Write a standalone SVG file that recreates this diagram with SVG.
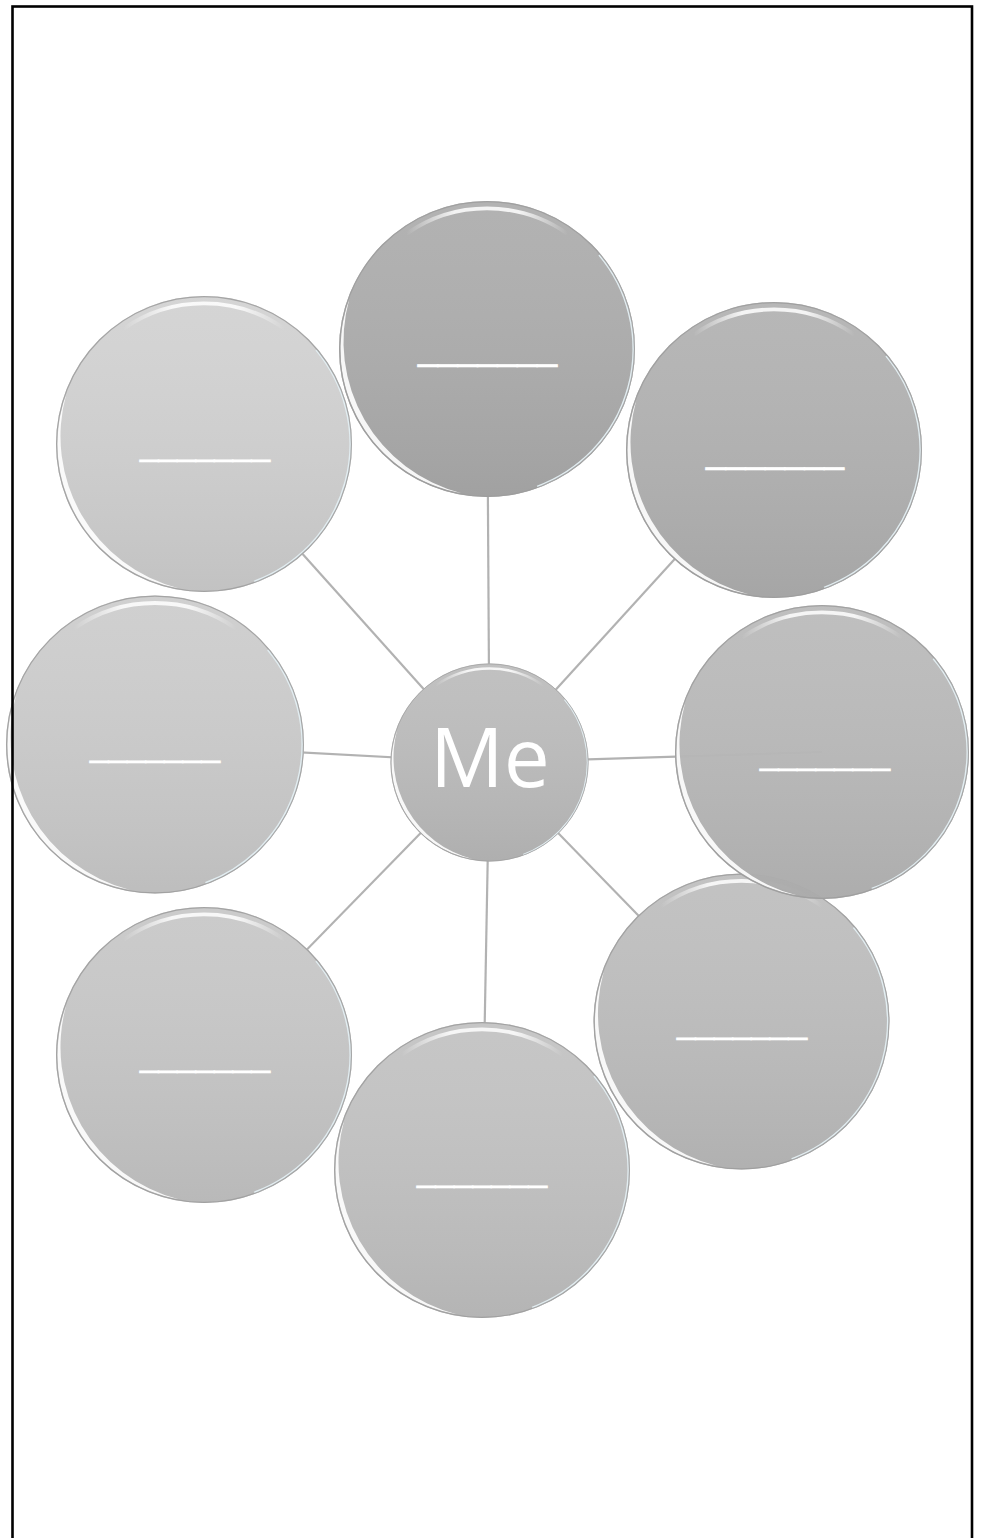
<svg xmlns="http://www.w3.org/2000/svg" width="982" height="1538" viewBox="0 0 982 1538">
  <style>
    .conn { stroke: #b2b2b2; stroke-width: 2.2; fill: none; }
    .blank { font-family: "Liberation Sans", Arial, sans-serif; fill: #ffffff; stroke: #ffffff; stroke-width: 0.7; }
    .me { font-family: "Open Sans", "Liberation Sans", sans-serif; font-size: 82px; fill: #ffffff; }
  </style>
  <defs>
    <linearGradient id="shade" x1="0" y1="0" x2="0" y2="1">
      <stop offset="0" stop-color="#ffffff" stop-opacity="0.04"/>
      <stop offset="1" stop-color="#000000" stop-opacity="0.08"/>
    </linearGradient>
    <linearGradient id="topfade" x1="0" y1="0" x2="1" y2="0">
      <stop offset="0" stop-color="#ffffff" stop-opacity="0"/>
      <stop offset="0.3" stop-color="#ffffff" stop-opacity="0.85"/>
      <stop offset="0.7" stop-color="#ffffff" stop-opacity="0.85"/>
      <stop offset="1" stop-color="#ffffff" stop-opacity="0"/>
    </linearGradient>
    <g id="bevel">
      <circle r="100" fill="url(#shade)"/>
      <path d="M -17.19,97.50 A 99 99 0 0 1 -93.03,-33.86 A 106 106 0 0 0 -17.19,97.50 Z" fill="#ffffff" fill-opacity="0.9"/>
      <path d="M -54.49,-77.82 A 95 95 0 0 1 54.49,-77.82" fill="none" stroke="url(#topfade)" stroke-width="2.6"/>
      <path d="M 75.8,-63.6 A 99 99 0 0 1 33.9,93.0" fill="none" stroke="#e2edf1" stroke-width="1.4"/>
      <circle r="99.6" fill="none" stroke="#9c9c9c" stroke-width="0.8" stroke-opacity="0.85"/>
    </g>
  </defs>
  <rect width="982" height="1538" fill="#ffffff"/>

  <g id="connectors">
    <line class="conn" x1="489.5" y1="762.5" x2="487" y2="349"/>
    <line class="conn" x1="489.5" y1="762.5" x2="774" y2="450"/>
    <line class="conn" x1="489.5" y1="762.5" x2="822" y2="752"/>
    <line class="conn" x1="489.5" y1="762.5" x2="741.5" y2="1021.5"/>
    <line class="conn" x1="489.5" y1="762.5" x2="482" y2="1170"/>
    <line class="conn" x1="489.5" y1="762.5" x2="204" y2="1055"/>
    <line class="conn" x1="489.5" y1="762.5" x2="155" y2="744.5"/>
    <line class="conn" x1="489.5" y1="762.5" x2="204" y2="444"/>
  </g>

  <g id="node-top">
    <circle cx="487" cy="349" r="148" fill="#afafaf"/>
    <use href="#bevel" transform="translate(487,349) scale(1.48)"/>
    <text class="blank" x="418" y="360" font-size="36" textLength="139" lengthAdjust="spacingAndGlyphs">_______</text>
  </g>
  <g id="node-top-right">
    <circle cx="774" cy="450" r="148" fill="#b4b4b4"/>
    <use href="#bevel" transform="translate(774,450) scale(1.48)"/>
    <text class="blank" x="706" y="462.5" font-size="36" textLength="138" lengthAdjust="spacingAndGlyphs">_______</text>
  </g>
  <g id="node-bottom-right">
    <circle cx="741.5" cy="1021.5" r="148" fill="#c0c0c0"/>
    <use href="#bevel" transform="translate(741.5,1021.5) scale(1.48)"/>
    <text class="blank" x="677" y="1032.5" font-size="33.4" textLength="130" lengthAdjust="spacingAndGlyphs">_______</text>
  </g>
  <g id="node-right">
    <circle cx="822" cy="752" r="147" fill="#bababa" fill-opacity="0.97"/>
    <use href="#bevel" transform="translate(822,752) scale(1.47)"/>
    <text class="blank" x="760" y="763.5" font-size="33.4" textLength="130" lengthAdjust="spacingAndGlyphs">_______</text>
  </g>
  <g id="node-bottom">
    <circle cx="482" cy="1170" r="148" fill="#c4c4c4"/>
    <use href="#bevel" transform="translate(482,1170) scale(1.48)"/>
    <text class="blank" x="417" y="1181" font-size="33.4" textLength="130" lengthAdjust="spacingAndGlyphs">_______</text>
  </g>
  <g id="node-bottom-left">
    <circle cx="204" cy="1055" r="148" fill="#c9c9c9"/>
    <use href="#bevel" transform="translate(204,1055) scale(1.48)"/>
    <text class="blank" x="140" y="1066" font-size="33.4" textLength="130" lengthAdjust="spacingAndGlyphs">_______</text>
  </g>
  <g id="node-left">
    <circle cx="155" cy="744.5" r="149" fill="#cecece"/>
    <use href="#bevel" transform="translate(155,744.5) scale(1.49)"/>
    <text class="blank" x="90" y="756" font-size="33.4" textLength="130" lengthAdjust="spacingAndGlyphs">_______</text>
  </g>
  <g id="node-top-left">
    <circle cx="204" cy="444" r="148" fill="#d3d3d3"/>
    <use href="#bevel" transform="translate(204,444) scale(1.48)"/>
    <text class="blank" x="140" y="455" font-size="33.4" textLength="130" lengthAdjust="spacingAndGlyphs">_______</text>
  </g>
  <g id="node-center">
    <circle cx="489.5" cy="762.5" r="99" fill="#bebebe"/>
    <use href="#bevel" transform="translate(489.5,762.5) scale(0.99)"/>
    <text class="me" x="490" y="787" text-anchor="middle">Me</text>
  </g>

  <rect id="frame" x="12.5" y="6.5" width="959.5" height="1545" fill="none" stroke="#000000" stroke-width="2.6"/>
</svg>
